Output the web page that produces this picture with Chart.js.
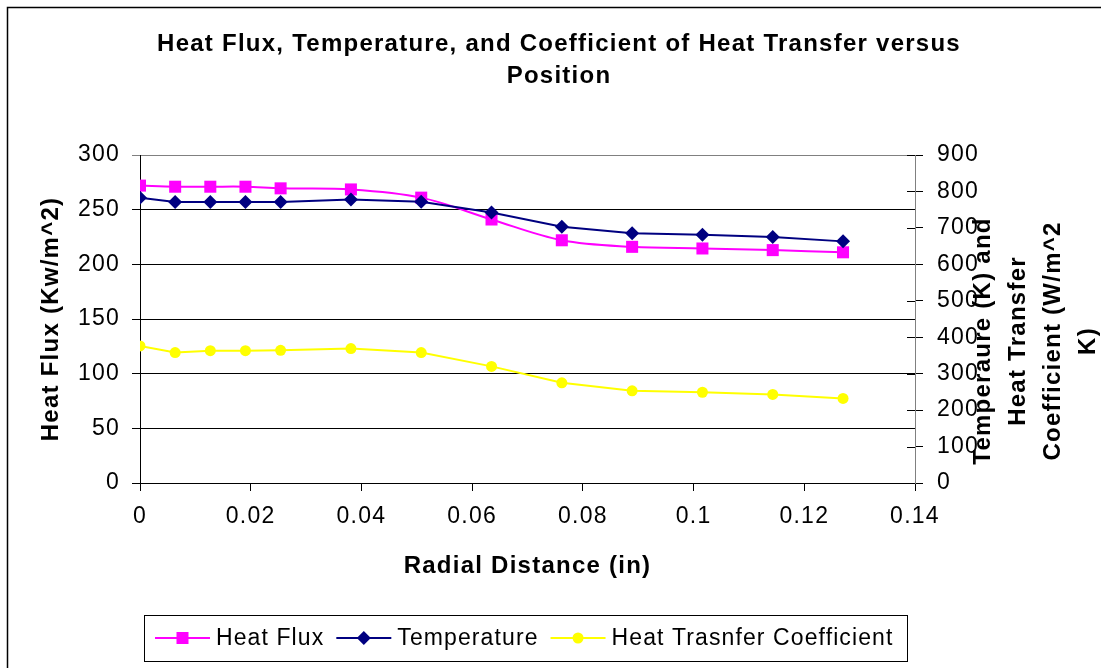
<!DOCTYPE html>
<html>
<head>
<meta charset="utf-8">
<title>Heat Flux, Temperature, and Coefficient of Heat Transfer versus Position</title>
<script src="https://cdn.jsdelivr.net/npm/chart.js@4.4.1/dist/chart.umd.min.js"></script>
<style>
  html, body { margin: 0; padding: 0; background: #fff; }
  canvas { display: block; }
</style>
</head>
<body>
<canvas id="chart" width="1101" height="668"></canvas>
<script>
// values
const radialDistance = [0, 0.00635, 0.0127, 0.01905, 0.0254, 0.0381, 0.0508, 0.0635, 0.0762, 0.0889, 0.1016, 0.1143, 0.127];
const heatFlux = [272, 271, 271, 271, 269.5, 268.5, 261, 241, 222, 216, 214.5, 213, 211];
const temperature = [783, 771, 771, 771, 771, 778, 772, 742, 703, 685, 681, 675, 663];
const heatTransferCoeff = [376, 358, 363, 363, 364, 369, 358, 320, 275, 253, 249, 243, 232];

const xTickValues = [0, 0.02, 0.04, 0.06, 0.08, 0.1, 0.12, 0.14];
const leftTickValues = [0, 50, 100, 150, 200, 250, 300];
const rightTickValues = [0, 100, 200, 300, 400, 500, 600, 700, 800, 900];

const titleLines = ["Heat Flux, Temperature, and Coefficient of Heat Transfer versus", "Position"];
const rightTitleLines = ["Temperaure (K) and", "Heat Transfer", "Coefficient (W/m^2", "K)"];

const FONT = '"Liberation Sans", Arial, sans-serif';
const SPACING = "1.25px";

Chart.defaults.font.family = FONT;
Chart.defaults.color = "#000";

function tickList(values) {
  return (scale) => { scale.ticks = values.map((v) => ({ value: v })); };
}

function drawMarker(ctx, style, x, y, color) {
  ctx.fillStyle = color;
  ctx.beginPath();
  if (style === "rect") {
    ctx.rect(x - 6, y - 6, 12, 12);
  } else if (style === "rectRot") {
    ctx.moveTo(x - 7, y);
    ctx.lineTo(x, y - 7);
    ctx.lineTo(x + 7, y);
    ctx.lineTo(x, y + 7);
    ctx.closePath();
  } else {
    ctx.arc(x, y, 5.5, 0, Math.PI * 2);
  }
  ctx.fill();
}

const extras = {
  id: "extras",
  beforeLayout(chart) {
    chart.ctx.letterSpacing = SPACING;
  },
  beforeDraw(chart) {
    const ctx = chart.ctx;
    ctx.save();
    ctx.fillStyle = "#fff";
    ctx.fillRect(0, 0, chart.width, chart.height);
    ctx.restore();
    ctx.letterSpacing = SPACING;
  },
  afterDraw(chart) {
    const ctx = chart.ctx;
    const area = chart.chartArea;
    const y1 = chart.scales.y1;
    ctx.save();
    ctx.letterSpacing = SPACING;

    // outer frame
    ctx.strokeStyle = "#000";
    ctx.lineWidth = 1.5;
    ctx.strokeRect(7.5, 7.5, chart.width + 10, chart.height + 10);

    // right axis ticks also cross into the plot
    ctx.strokeStyle = "#000";
    ctx.lineWidth = 1;
    rightTickValues.forEach((v) => {
      const py = Math.round(y1.getPixelForValue(v)) + 0.5;
      ctx.beginPath();
      ctx.moveTo(area.right - 8, py);
      ctx.lineTo(area.right, py);
      ctx.stroke();
    });

    // right axis title, overlapping the tick labels like the original
    ctx.fillStyle = "#000";
    ctx.font = "bold 24px " + FONT;
    ctx.textAlign = "center";
    ctx.textBaseline = "middle";
    const titleX = [983, 1018, 1053, 1088];
    rightTitleLines.forEach((line, i) => {
      ctx.save();
      ctx.translate(titleX[i], 341);
      ctx.rotate(-Math.PI / 2);
      ctx.fillText(line, 0, 0);
      ctx.restore();
    });

    // legend
    ctx.strokeStyle = "#000";
    ctx.lineWidth = 1;
    ctx.strokeRect(144.5, 615.5, 763, 46);
    ctx.font = "23px " + FONT;
    ctx.letterSpacing = "1.1px";
    ctx.textAlign = "left";
    let lx = 155;
    const ly = 638;
    chart.data.datasets.forEach((ds) => {
      ctx.strokeStyle = ds.borderColor;
      ctx.lineWidth = 2;
      ctx.beginPath();
      ctx.moveTo(lx, ly);
      ctx.lineTo(lx + 55, ly);
      ctx.stroke();
      drawMarker(ctx, ds.pointStyle, lx + 27.5, ly, ds.borderColor);
      ctx.fillStyle = "#000";
      ctx.fillText(ds.label, lx + 61, ly + 1);
      lx += 61 + ctx.measureText(ds.label).width + 12;
    });
    ctx.restore();
  },
};

const ctx = document.getElementById("chart").getContext("2d");
ctx.letterSpacing = SPACING;

new Chart(ctx, {
  type: "line",
  data: {
    datasets: [
      {
        label: "Heat Flux",
        data: radialDistance.map((x, i) => ({ x, y: heatFlux[i] })),
        yAxisID: "y",
        borderColor: "#ff00ff",
        backgroundColor: "#ff00ff",
        borderWidth: 2,
        tension: 0.35,
        pointStyle: "rect",
        pointRadius: 8.5,
        pointBorderWidth: 0,
        order: 3,
      },
      {
        label: "Temperature",
        data: radialDistance.map((x, i) => ({ x, y: temperature[i] })),
        yAxisID: "y1",
        borderColor: "#000080",
        backgroundColor: "#000080",
        borderWidth: 2,
        tension: 0,
        pointStyle: "rectRot",
        pointRadius: 7,
        pointBorderWidth: 0,
        order: 2,
      },
      {
        label: "Heat Trasnfer Coefficient",
        data: radialDistance.map((x, i) => ({ x, y: heatTransferCoeff[i] })),
        yAxisID: "y1",
        borderColor: "#ffff00",
        backgroundColor: "#ffff00",
        borderWidth: 2,
        tension: 0,
        pointStyle: "circle",
        pointRadius: 5.5,
        pointBorderWidth: 0,
        order: 1,
      },
    ],
  },
  options: {
    responsive: false,
    animation: false,
    events: [],
    layout: { padding: { top: 7, left: 37, right: 20, bottom: 87 } },
    plugins: {
      legend: { display: false },
      tooltip: { enabled: false },
      title: {
        display: true,
        text: titleLines,
        color: "#000",
        font: { size: 24, weight: "bold", lineHeight: 32 / 24 },
        padding: { top: 21, bottom: 63 },
      },
    },
    scales: {
      x: {
        type: "linear",
        position: "bottom",
        min: 0,
        max: 0.14,
        afterBuildTicks: tickList(xTickValues),
        afterFit: (s) => { s.height = 98; },
        ticks: {
          callback: (v) => String(+v.toFixed(2)),
          padding: 12,
          maxRotation: 0,
          autoSkip: false,
          color: "#000",
          font: { size: 23 },
        },
        grid: { drawOnChartArea: false, tickLength: 8, color: "#000" },
        border: { color: "#000" },
        title: {
          display: true,
          text: "Radial Distance (in)",
          color: "#000",
          font: { size: 24, weight: "bold" },
          padding: { top: 0, bottom: 0 },
        },
      },
      y: {
        position: "left",
        min: 0,
        max: 300,
        afterBuildTicks: tickList(leftTickValues),
        afterFit: (s) => { s.width = 103; },
        ticks: { padding: 12, color: "#000", font: { size: 23 } },
        grid: {
          color: (c) => (c.tick && c.tick.value === 300 ? "#808080" : "#000"),
          tickLength: 8,
        },
        border: { color: "#000" },
        title: {
          display: true,
          text: "Heat Flux (Kw/m^2)",
          color: "#000",
          font: { size: 24, weight: "bold" },
          padding: { top: 0, bottom: 0 },
        },
      },
      y1: {
        position: "right",
        min: 0,
        max: 900,
        afterBuildTicks: tickList(rightTickValues),
        afterFit: (s) => { s.width = 166; },
        ticks: { padding: 14, color: "#000", font: { size: 23 } },
        grid: { drawOnChartArea: false, tickLength: 8, color: "#000" },
        border: { color: "#808080" },
        title: { display: false },
      },
    },
  },
  plugins: [extras],
});
</script>
</body>
</html>
